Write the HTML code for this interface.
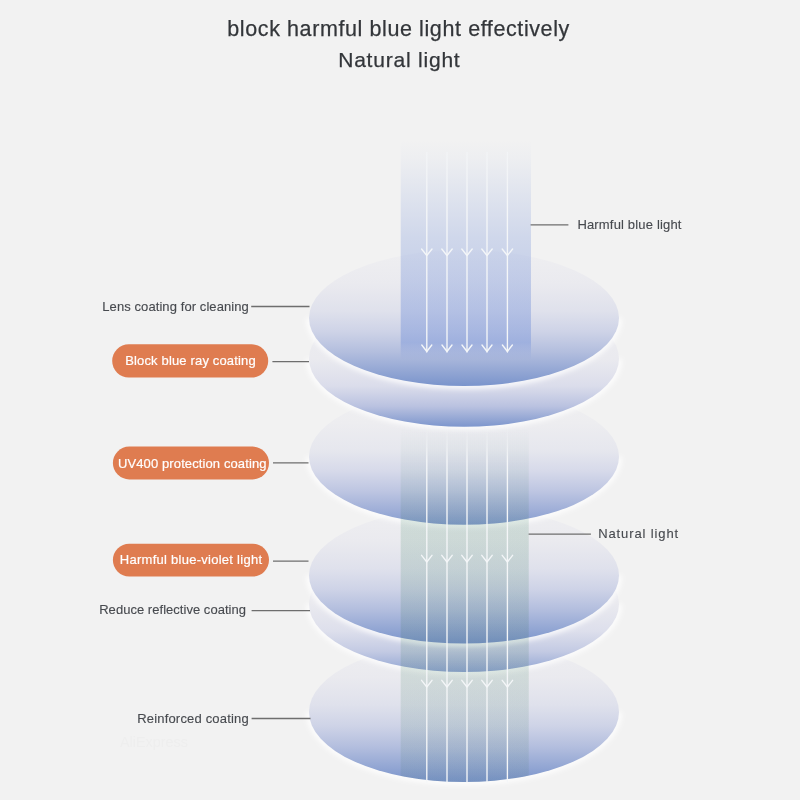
<!DOCTYPE html>
<html><head><meta charset="utf-8">
<style>
html,body{margin:0;padding:0;background:#f2f2f2;}
body{width:800px;height:800px;overflow:hidden;}
svg{display:block;}
text{font-family:"Liberation Sans",sans-serif;}
</style></head>
<body>
<svg width="800" height="800" viewBox="0 0 800 800">
<defs>
  <linearGradient id="gStrong" x1="0" y1="0" x2="0" y2="1"><stop offset="0" stop-color="#efeff1"/><stop offset="0.25" stop-color="#eaeaef"/><stop offset="0.45" stop-color="#dfe1ec"/><stop offset="0.6" stop-color="#ced3e7"/><stop offset="0.75" stop-color="#b3bede"/><stop offset="0.9" stop-color="#91a5d3"/><stop offset="1" stop-color="#7a94cc"/></linearGradient>
<linearGradient id="gMed" x1="0" y1="0" x2="0" y2="1"><stop offset="0" stop-color="#f0f0f1"/><stop offset="0.25" stop-color="#ededf0"/><stop offset="0.45" stop-color="#e6e7ee"/><stop offset="0.6" stop-color="#d7daea"/><stop offset="0.75" stop-color="#bec6e2"/><stop offset="0.9" stop-color="#9dadd7"/><stop offset="1" stop-color="#849ccf"/></linearGradient>
<linearGradient id="gLight" x1="0" y1="0" x2="0" y2="1"><stop offset="0" stop-color="#f0f0f1"/><stop offset="0.25" stop-color="#ececf0"/><stop offset="0.45" stop-color="#e7e8ee"/><stop offset="0.6" stop-color="#dee0ec"/><stop offset="0.75" stop-color="#ccd1e6"/><stop offset="0.9" stop-color="#afbbdd"/><stop offset="1" stop-color="#94a7d4"/></linearGradient>
  <linearGradient id="gCres2" x1="0" y1="0" x2="0" y2="1"><stop offset="0" stop-color="#f0f0f1"/><stop offset="0.5" stop-color="#eaeaef"/><stop offset="0.7" stop-color="#dbddeb"/><stop offset="0.85" stop-color="#bac2e0"/><stop offset="1" stop-color="#7d96cd"/></linearGradient>
<linearGradient id="gCres5" x1="0" y1="0" x2="0" y2="1"><stop offset="0" stop-color="#f0f0f1"/><stop offset="0.5" stop-color="#eaeaef"/><stop offset="0.7" stop-color="#dddfec"/><stop offset="0.85" stop-color="#c3cae3"/><stop offset="1" stop-color="#91a5d3"/></linearGradient>
  <linearGradient id="beamTop" gradientUnits="userSpaceOnUse" x1="0" y1="140" x2="0" y2="360">
    <stop offset="0" stop-color="#849ddb" stop-opacity="0"/>
    <stop offset="0.08" stop-color="#849ddb" stop-opacity="0.04"/>
    <stop offset="0.45" stop-color="#849ddb" stop-opacity="0.32"/>
    <stop offset="0.92" stop-color="#849ddb" stop-opacity="0.55"/>
    <stop offset="1" stop-color="#849ddb" stop-opacity="0"/>
  </linearGradient>
  <linearGradient id="beamBot" gradientUnits="userSpaceOnUse" x1="0" y1="427" x2="0" y2="782">
    <stop offset="0" stop-color="#ffffff"/>
    <stop offset="0.1" stop-color="#f7faf9"/>
    <stop offset="0.3" stop-color="#e6f0eb"/>
    <stop offset="0.65" stop-color="#e8f0ec"/>
    <stop offset="1" stop-color="#f2f6f4"/>
  </linearGradient>
  <linearGradient id="beamBot2" gradientUnits="userSpaceOnUse" x1="0" y1="427" x2="0" y2="782">
    <stop offset="0" stop-color="#7fae96" stop-opacity="0"/>
    <stop offset="0.1" stop-color="#7fae96" stop-opacity="0.03"/>
    <stop offset="0.3" stop-color="#7fae96" stop-opacity="0.08"/>
    <stop offset="1" stop-color="#7fae96" stop-opacity="0.06"/>
  </linearGradient>
  <clipPath id="clipBot"><rect x="400" y="420" width="131" height="292"/><ellipse cx="464" cy="712" rx="155" ry="70"/></clipPath>
  <linearGradient id="lineBot" gradientUnits="userSpaceOnUse" x1="0" y1="427" x2="0" y2="460">
    <stop offset="0" stop-color="#f4f6f8" stop-opacity="0"/>
    <stop offset="1" stop-color="#f4f6f8" stop-opacity="1"/>
  </linearGradient>
  <linearGradient id="lineTop" gradientUnits="userSpaceOnUse" x1="0" y1="150" x2="0" y2="200"><stop offset="0" stop-color="#f4f6f8" stop-opacity="0.7"/><stop offset="1" stop-color="#f4f6f8" stop-opacity="1"/></linearGradient>
  <filter id="glow" x="-10%" y="-20%" width="120%" height="140%"><feGaussianBlur stdDeviation="2.5"/></filter>
</defs>

<!-- title -->
<text x="227.3" y="36.2" font-size="21.5" fill="#33363a" stroke="#33363a" stroke-width="0.25" textLength="342" lengthAdjust="spacing">block harmful blue light effectively</text>
<text x="338.2" y="66.6" font-size="21" fill="#33363a" stroke="#33363a" stroke-width="0.25" textLength="121.5" lengthAdjust="spacing">Natural light</text>

<!-- lenses bottom to top -->
<g>
<path d="M309 712A155 70 0 0 0 619 712" fill="none" stroke="#ffffff" stroke-opacity="0.85" stroke-width="6" filter="url(#glow)"/>
<ellipse cx="464" cy="712" rx="155" ry="70" fill="url(#gStrong)"/>
<path d="M309 604A155 68 0 0 0 619 604" fill="none" stroke="#ffffff" stroke-opacity="0.85" stroke-width="6" filter="url(#glow)"/>
<ellipse cx="464" cy="604" rx="155" ry="68" fill="url(#gCres5)"/>
<path d="M309 575.6A155 68 0 0 0 619 575.6" fill="none" stroke="#ffffff" stroke-opacity="0.85" stroke-width="6" filter="url(#glow)"/>
<ellipse cx="464" cy="575.6" rx="155" ry="68" fill="url(#gStrong)"/>
<path d="M309 456.8A155 68 0 0 0 619 456.8" fill="none" stroke="#ffffff" stroke-opacity="0.85" stroke-width="6" filter="url(#glow)"/>
<ellipse cx="464" cy="456.8" rx="155" ry="68" fill="url(#gMed)"/>
<path d="M309 358.7A155 68 0 0 0 619 358.7" fill="none" stroke="#ffffff" stroke-opacity="0.85" stroke-width="6" filter="url(#glow)"/>
<ellipse cx="464" cy="358.7" rx="155" ry="68" fill="url(#gCres2)"/>
<path d="M309 318A155 68 0 0 0 619 318" fill="none" stroke="#ffffff" stroke-opacity="0.85" stroke-width="6" filter="url(#glow)"/>
<ellipse cx="464" cy="318" rx="155" ry="68" fill="url(#gStrong)"/>
</g>

<!-- beams -->
<rect x="400.7" y="140" width="130.3" height="220" fill="url(#beamTop)"/>
<rect x="400.7" y="427" width="128" height="355" fill="url(#beamBot)" clip-path="url(#clipBot)" style="mix-blend-mode:multiply"/>
<rect x="400.7" y="427" width="128" height="355" fill="url(#beamBot2)" clip-path="url(#clipBot)"/>

<!-- arrows -->
<g stroke="#f4f6f8" stroke-width="1.35" fill="none" stroke-linecap="round" stroke-linejoin="round">
  <path stroke="url(#lineTop)" d="M426.8 152.5V352 M447 152.5V352 M467 152.5V352 M487 152.5V352 M507.4 152.5V352"/>
  <path d="M421.6 249l5.2 6.5l5.2 -6.5 M441.8 249l5.2 6.5l5.2 -6.5 M461.8 249l5.2 6.5l5.2 -6.5 M481.8 249l5.2 6.5l5.2 -6.5 M502.2 249l5.2 6.5l5.2 -6.5"/>
  <path d="M421.8 345l5 6.5l5 -6.5 M442 345l5 6.5l5 -6.5 M462 345l5 6.5l5 -6.5 M482 345l5 6.5l5 -6.5 M502.4 345l5 6.5l5 -6.5"/>
  <path stroke="url(#lineBot)" d="M426.8 427V782 M447 427V782 M467 427V782 M487 427V782 M507.4 427V782"/>
  <path d="M421.6 555.3l5.2 6.7l5.2 -6.7 M441.8 555.3l5.2 6.7l5.2 -6.7 M461.8 555.3l5.2 6.7l5.2 -6.7 M481.8 555.3l5.2 6.7l5.2 -6.7 M502.2 555.3l5.2 6.7l5.2 -6.7"/>
  <path d="M421.6 680.3l5.2 6.7l5.2 -6.7 M441.8 680.3l5.2 6.7l5.2 -6.7 M461.8 680.3l5.2 6.7l5.2 -6.7 M481.8 680.3l5.2 6.7l5.2 -6.7 M502.2 680.3l5.2 6.7l5.2 -6.7"/>
</g>

<!-- leader lines -->
<g stroke="#6e6e6e" stroke-width="1.3">
  <path d="M530.6 224.8H568.4"/>
  <path d="M251.2 306.5H309.5"/>
  <path d="M272.4 361.7H309"/>
  <path d="M273 462.8H308.5"/>
  <path d="M528.6 534.1H590.9"/>
  <path d="M273 561.2H308.5"/>
  <path d="M251.6 610.7H310"/>
  <path d="M251.6 718.5H310.5"/>
</g>

<!-- pills -->
<g fill="#df7c50">
  <rect x="112.2" y="344.3" width="156" height="33.2" rx="16.6"/>
  <rect x="112.9" y="446.6" width="156.1" height="32.8" rx="16.4"/>
  <rect x="112.9" y="543.7" width="156.1" height="32.8" rx="16.4"/>
</g>

<!-- watermark -->
<text x="120" y="747" font-size="15" fill="#eeeeee" textLength="68" lengthAdjust="spacingAndGlyphs">AliExpress</text>
<!-- labels -->
<g font-size="13" fill="#474a4f" stroke="#474a4f" stroke-width="0.12">
  <text x="577.4" y="229.2" textLength="104" lengthAdjust="spacing">Harmful blue light</text>
  <text x="102.3" y="310.7" textLength="146.5" lengthAdjust="spacing">Lens coating for cleaning</text>
  <text x="598.2" y="538.2" textLength="80" lengthAdjust="spacing">Natural light</text>
  <text x="99.2" y="613.9" textLength="146.8" lengthAdjust="spacing">Reduce reflective coating</text>
  <text x="137.2" y="723" textLength="111.5" lengthAdjust="spacing">Reinforced coating</text>
</g>
<g font-size="13" fill="#ffffff" stroke="#ffffff" stroke-width="0.2">
  <text x="125.2" y="364.8" textLength="130.5" lengthAdjust="spacing">Block blue ray coating</text>
  <text x="118" y="467.6" textLength="148.5" lengthAdjust="spacing">UV400 protection coating</text>
  <text x="119.8" y="563.9" textLength="142.2" lengthAdjust="spacing">Harmful blue-violet light</text>
</g>
</svg>
</body></html>
